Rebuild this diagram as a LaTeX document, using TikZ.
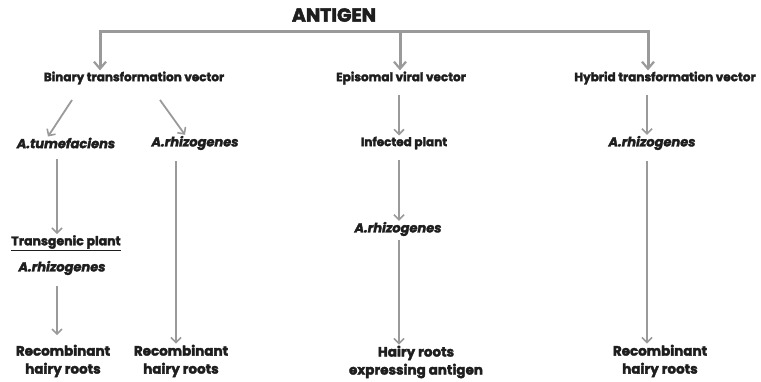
\documentclass[tikz,border=0pt]{standalone}
\usepackage{fontspec}
\setmainfont{Poppins}[BoldFeatures={FakeBold=2.5}, BoldItalicFeatures={FakeBold=2.5}]
\usetikzlibrary{arrows.meta}
\definecolor{arrgray}{HTML}{9A9A9A}
\definecolor{txt}{HTML}{1E1E1E}
\begin{document}
\begin{tikzpicture}[x=1pt, y=-1pt,
    every node/.style={text=txt, font=\bfseries, inner sep=1pt, align=center},
    head/.style={font=\fontsize{19}{21}\selectfont\bfseries},
    vec/.style={font=\fontsize{12}{14}\selectfont\bfseries},
    spec/.style={font=\fontsize{13}{15}\selectfont\bfseries\itshape},
    mid/.style={font=\fontsize{12}{14}\selectfont\bfseries},
    res/.style={font=\fontsize{13.5}{18}\selectfont\bfseries},
    bigarr/.style={draw=arrgray, line width=3pt, -{Straight Barb[length=7pt, width=12pt, line width=2.2pt]}},
    arr/.style={draw=arrgray, line width=1.8pt, -{Straight Barb[length=5pt, width=10pt, line width=1.6pt]}}]
  \useasboundingbox (0,0) rectangle (761,382);

  % top
  \node[head] (antigen) at (334,15) {ANTIGEN};
  \coordinate (barL) at (100,32);
  \coordinate (barM) at (400,32);
  \coordinate (barR) at (648,32);
  \draw[draw=arrgray, line width=3pt, line cap=rect] (barL) -- (barR);

  % vector types
  \node[vec] (binary) at (134,78) {Binary transformation vector};
  \node[vec] (episomal) at (401,78) {Episomal viral vector};
  \node[vec] (hybrid) at (665,78) {Hybrid transformation vector};
  \draw[bigarr] (barL) -- (barL |- binary.north);
  \draw[bigarr] (barM) -- (barM |- episomal.north);
  \draw[bigarr] (barR) -- (barR |- hybrid.north);

  % second row
  \node[spec] (tumef) at (66,143) {A.tumefaciens};
  \node[spec] (rhizoA) at (195,143) {A.rhizogenes};
  \node[mid] (infected) at (404,143) {Infected plant};
  \node[spec] (rhizoD) at (652,143) {A.rhizogenes};
  \draw[arr] (72,100) -- (tumef.north -| 48,0);
  \draw[arr] (160,100) -- (rhizoA.north -| 185,0);
  \draw[arr] (episomal.south -| 399,0) ++(0,9) -- (infected.north -| 399,0);
  \draw[arr] (hybrid.south -| 647,0) ++(0,9) -- (rhizoD.north -| 647,0);

  % transgenic branch
  \node[mid, font=\fontsize{12.5}{14}\selectfont\bfseries] (transg) at (66,243) {\underline{Transgenic plant}};
  \node[spec] (rhizoB) at (62,268) {A.rhizogenes};
  \node[spec] (rhizoC) at (398,229) {A.rhizogenes};
  \draw[arr] ([xshift=-9pt, yshift=-10pt]tumef.south) -- ([xshift=-9pt]transg.north);
  \draw[arr] ([xshift=-5pt, yshift=-10pt]rhizoB.south) -- ++(0,49);
  \draw[arr] ([yshift=-10pt]infected.south -| 399,0) -- (rhizoC.north -| 399,0);

  % results
  \node[res] (recA) at (63,361) {Recombinant\\hairy roots};
  \node[res] (recB) at (181,361) {Recombinant\\hairy roots};
  \node[res] (hairy) at (416,362) {Hairy roots\\expressing antigen};
  \node[res] (recD) at (660,361) {Recombinant\\hairy roots};
  \draw[arr] ([xshift=-19pt, yshift=-10pt]rhizoA.south) -- (recB.north -| 176,0);
  \draw[arr] ([yshift=-3pt]rhizoC.south -| 399,0) -- (hairy.north -| 399,0);
  \draw[arr] ([yshift=-10pt]rhizoD.south -| 647,0) -- (recD.north -| 647,0);
\end{tikzpicture}
\end{document}
